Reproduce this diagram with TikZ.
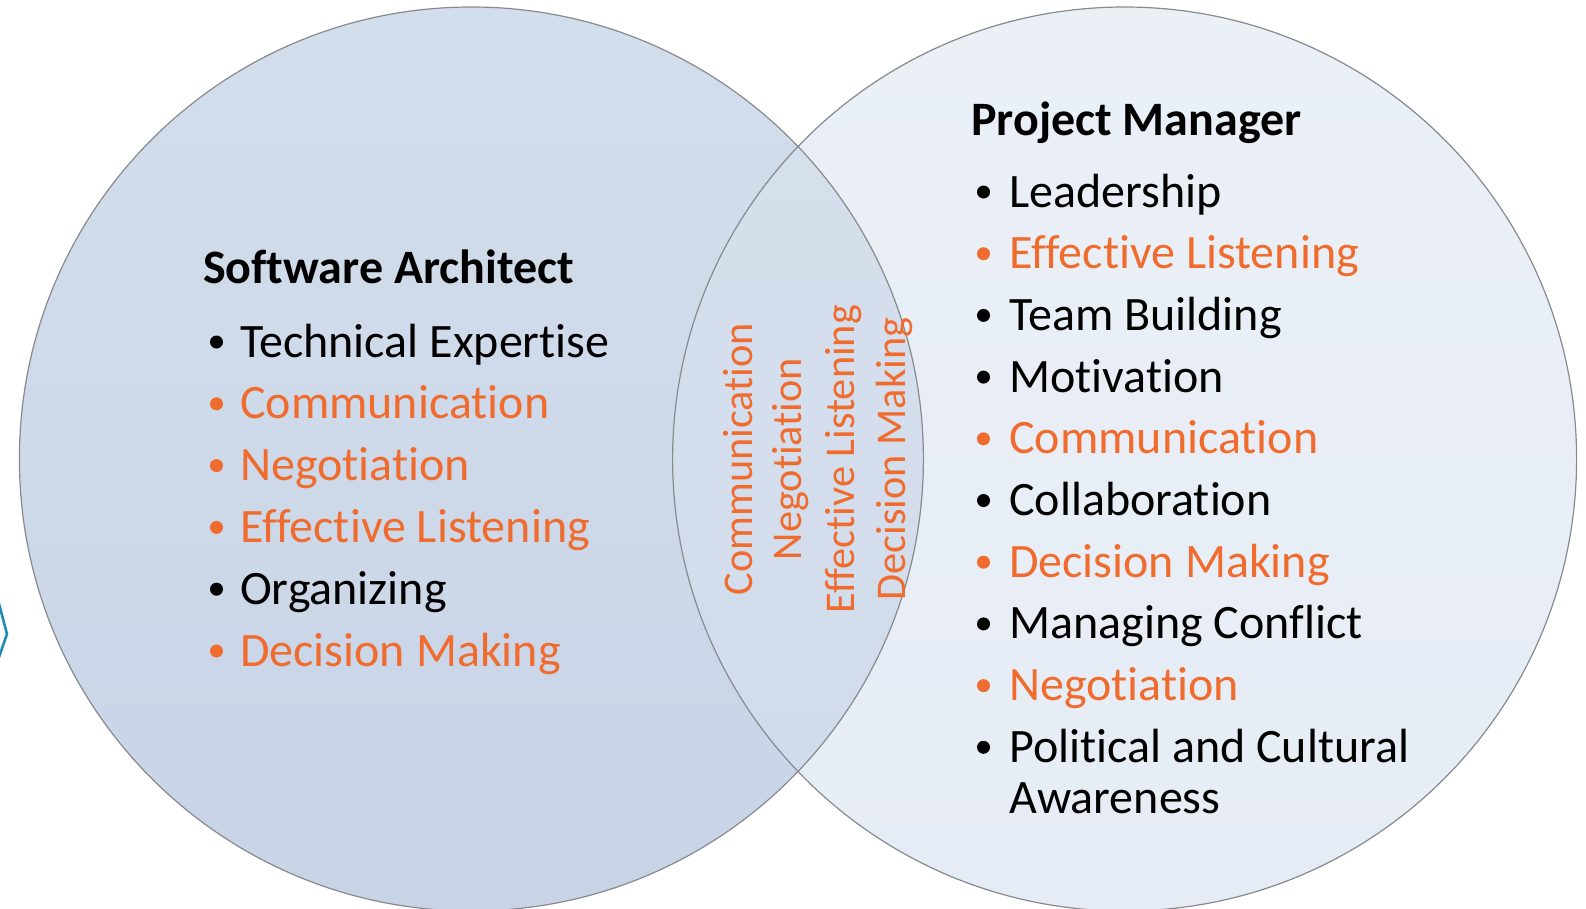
\documentclass[tikz,border=0pt]{standalone}
\usepackage{fontspec}
\setmainfont{Carlito}[Ligatures=NoCommon]
\definecolor{orng}{RGB}{240,108,46}
\definecolor{lefttop}{RGB}{211,222,236}
\definecolor{leftbot}{RGB}{200,212,230}
\definecolor{righttop}{RGB}{235,240,247}
\definecolor{rightbot}{RGB}{230,236,245}
\definecolor{midtop}{RGB}{215,224,237}
\definecolor{midbot}{RGB}{208,219,234}
\definecolor{edgegray}{RGB}{135,138,142}
\definecolor{chev}{RGB}{30,140,182}
\begin{document}
\begin{tikzpicture}[x=1pt,y=-1pt,
  item/.style={anchor=base west, inner sep=0pt, font=\fontsize{48}{57}\selectfont},
  ttl/.style={anchor=base west, inner sep=0pt, font=\fontsize{48}{57}\selectfont\bfseries},
  mid/.style={anchor=base, rotate=90, inner sep=0pt, text=orng, font=\fontsize{42.3}{50}\selectfont},
  dotb/.style={circle, fill, inner sep=0pt, minimum size=13pt},
  edge/.style={draw=edgegray, line width=1.2pt}]
\useasboundingbox (0,0) rectangle (1586,908);
\coordinate (L) at (471.4,459);
\coordinate (R) at (1124.6,459);
% circles
\shade[top color=lefttop, bottom color=leftbot] (L) circle[radius=452pt];
\shade[top color=righttop, bottom color=rightbot] (R) circle[radius=452pt];
\begin{scope}
  \clip (L) circle[radius=452pt];
  \shade[top color=midtop, bottom color=midbot] (R) circle[radius=452pt];
\end{scope}
\draw[edge] (L) circle[radius=452pt];
\draw[edge] (R) circle[radius=452pt];
% chevron at left edge
\coordinate (c1) at (-2,600);
\coordinate (c2) at (7,634);
\coordinate (c3) at (-2,660);
\draw[chev, line width=2.6pt] (c1) -- (c2) -- (c3);
% left list
\node[ttl] (lt) at (203,283) {Software Architect};
\node[dotb] (lb1) at (216.5,342) {};
\node[item] (l1) at (240,357) {Technical Expertise};
\node[dotb, orng] (lb2) at (216.5,403.8) {};
\node[item, text=orng] (l2) at (240,418.8) {Communication};
\node[dotb, orng] (lb3) at (216.5,465.6) {};
\node[item, text=orng] (l3) at (240,480.6) {Negotiation};
\node[dotb, orng] (lb4) at (216.5,527.4) {};
\node[item, text=orng] (l4) at (240,542.4) {Effective Listening};
\node[dotb] (lb5) at (216.5,589.2) {};
\node[item] (l5) at (240,604.2) {Organizing};
\node[dotb, orng] (lb6) at (216.5,651) {};
\node[item, text=orng] (l6) at (240,666) {Decision Making};
% middle
\node[mid] (m1) at (752.7,459) {Communication};
\node[mid] (m2) at (801.7,459) {Negotiation};
\node[mid] (m3) at (854,459) {Effective Listening};
\node[mid] (m4) at (905,459) {Decision Making};
% right list
\node[ttl] (rt) at (971,135) {Project Manager};
\node[dotb] (rb1) at (983.5,192) {};
\node[item] (r1) at (1009,207) {Leadership};
\node[dotb, orng] (rb2) at (983.5,253.7) {};
\node[item, text=orng] (r2) at (1009,268.7) {Effective Listening};
\node[dotb] (rb3) at (983.5,315.4) {};
\node[item] (r3) at (1009,330.4) {Team Building};
\node[dotb] (rb4) at (983.5,377.1) {};
\node[item] (r4) at (1009,392.1) {Motivation};
\node[dotb, orng] (rb5) at (983.5,438.8) {};
\node[item, text=orng] (r5) at (1009,453.8) {Communication};
\node[dotb] (rb6) at (983.5,500.5) {};
\node[item] (r6) at (1009,515.5) {Collaboration};
\node[dotb, orng] (rb7) at (983.5,562.2) {};
\node[item, text=orng] (r7) at (1009,577.2) {Decision Making};
\node[dotb] (rb8) at (983.5,623.9) {};
\node[item] (r8) at (1009,638.9) {Managing Conflict};
\node[dotb, orng] (rb9) at (983.5,685.6) {};
\node[item, text=orng] (r9) at (1009,700.6) {Negotiation};
\node[dotb] (rb10) at (983.5,747.3) {};
\node[item] (r10) at (1009,762.3) {Political and Cultural};
\node[item] (r11) at (1009,813) {Awareness};
\end{tikzpicture}
\end{document}
